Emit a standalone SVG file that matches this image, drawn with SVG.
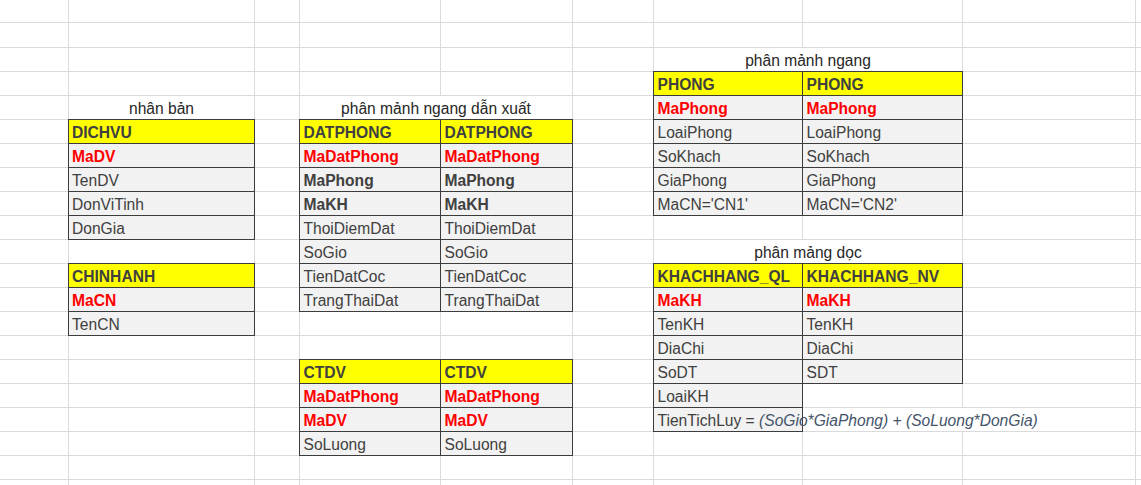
<svg xmlns="http://www.w3.org/2000/svg" width="1141" height="485" viewBox="0 0 1141 485">
  <style>
    .grid { fill: none; stroke: #dadada; stroke-width: 1; }
    .hd { fill: #ffff00; stroke: #3c3c3c; stroke-width: 1; }
    .cl { fill: #f2f2f2; stroke: #3c3c3c; stroke-width: 1; }
    .blank { fill: #ffffff; stroke: none; }
    text { font-family: "Liberation Sans", Arial, sans-serif; font-size: 15.6px; fill: #404040; }
    .ttl { fill: #262626; text-anchor: middle; }
    .bd { font-weight: bold; }
    .pk { font-weight: bold; fill: #ff0000; }
    .it { font-style: italic; fill: #44546a; }
  </style>

  <!-- sheet background and cell gridlines -->
  <g id="sheet">
    <rect x="0" y="0" width="1141" height="485" fill="#ffffff"/>
    <path class="grid" d="M0 22.5H1141M0 47.5H1141M0 71.5H1141M0 95.5H1141M0 119.5H1141M0 143.5H1141M0 167.5H1141M0 191.5H1141M0 215.5H1141M0 239.5H1141M0 263.5H1141M0 287.5H1141M0 311.5H1141M0 335.5H1141M0 359.5H1141M0 383.5H1141M0 407.5H1141M0 431.5H1141M0 455.5H1141M0 479.5H1141"/>
    <path class="grid" d="M68.5 0V485M254.5 0V485M299.5 0V485M440.5 0V485M572.5 0V485M653.5 0V485M802.5 0V485M962.5 0V485M1135.5 0V485"/>
    <!-- merged title cells and overflowing text hide the inner gridlines -->
    <rect class="blank" x="300" y="96" width="272" height="23"/>
    <rect class="blank" x="654" y="48" width="308" height="23"/>
    <rect class="blank" x="654" y="240" width="308" height="23"/>
    <rect class="blank" x="961" y="408" width="3" height="23"/>
  </g>

  <!-- nhân bản -->
  <g id="title-nhanban">
    <text class="ttl" x="161.5" y="113.5">nhân bản</text>
  </g>
  <g id="dichvu">
    <rect class="hd" x="68.5" y="119.5" width="186" height="24"/>
    <rect class="cl" x="68.5" y="143.5" width="186" height="24"/>
    <rect class="cl" x="68.5" y="167.5" width="186" height="24"/>
    <rect class="cl" x="68.5" y="191.5" width="186" height="24"/>
    <rect class="cl" x="68.5" y="215.5" width="186" height="24"/>
    <text class="bd" x="72" y="137.5">DICHVU</text>
    <text class="pk" x="72" y="161.5">MaDV</text>
    <text x="72" y="185.5">TenDV</text>
    <text x="72" y="209.5">DonViTinh</text>
    <text x="72" y="233.5">DonGia</text>
  </g>
  <g id="chinhanh">
    <rect class="hd" x="68.5" y="263.5" width="186" height="24"/>
    <rect class="cl" x="68.5" y="287.5" width="186" height="24"/>
    <rect class="cl" x="68.5" y="311.5" width="186" height="24"/>
    <text class="bd" x="72" y="281.5">CHINHANH</text>
    <text class="pk" x="72" y="305.5">MaCN</text>
    <text x="72" y="329.5">TenCN</text>
  </g>

  <!-- phân mảnh ngang dẫn xuất -->
  <g id="title-danxuat">
    <text class="ttl" x="436" y="113.5">phân mảnh ngang dẫn xuất</text>
  </g>
  <g id="datphong-1">
    <rect class="hd" x="299.5" y="119.5" width="141" height="24"/>
    <rect class="cl" x="299.5" y="143.5" width="141" height="24"/>
    <rect class="cl" x="299.5" y="167.5" width="141" height="24"/>
    <rect class="cl" x="299.5" y="191.5" width="141" height="24"/>
    <rect class="cl" x="299.5" y="215.5" width="141" height="24"/>
    <rect class="cl" x="299.5" y="239.5" width="141" height="24"/>
    <rect class="cl" x="299.5" y="263.5" width="141" height="24"/>
    <rect class="cl" x="299.5" y="287.5" width="141" height="24"/>
    <text class="bd" x="303.5" y="137.5">DATPHONG</text>
    <text class="pk" x="303.5" y="161.5">MaDatPhong</text>
    <text class="bd" x="303.5" y="185.5">MaPhong</text>
    <text class="bd" x="303.5" y="209.5">MaKH</text>
    <text x="303.5" y="233.5">ThoiDiemDat</text>
    <text x="303.5" y="257.5">SoGio</text>
    <text x="303.5" y="281.5">TienDatCoc</text>
    <text x="303.5" y="305.5">TrangThaiDat</text>
  </g>
  <g id="datphong-2">
    <rect class="hd" x="440.5" y="119.5" width="132" height="24"/>
    <rect class="cl" x="440.5" y="143.5" width="132" height="24"/>
    <rect class="cl" x="440.5" y="167.5" width="132" height="24"/>
    <rect class="cl" x="440.5" y="191.5" width="132" height="24"/>
    <rect class="cl" x="440.5" y="215.5" width="132" height="24"/>
    <rect class="cl" x="440.5" y="239.5" width="132" height="24"/>
    <rect class="cl" x="440.5" y="263.5" width="132" height="24"/>
    <rect class="cl" x="440.5" y="287.5" width="132" height="24"/>
    <text class="bd" x="444.5" y="137.5">DATPHONG</text>
    <text class="pk" x="444.5" y="161.5">MaDatPhong</text>
    <text class="bd" x="444.5" y="185.5">MaPhong</text>
    <text class="bd" x="444.5" y="209.5">MaKH</text>
    <text x="444.5" y="233.5">ThoiDiemDat</text>
    <text x="444.5" y="257.5">SoGio</text>
    <text x="444.5" y="281.5">TienDatCoc</text>
    <text x="444.5" y="305.5">TrangThaiDat</text>
  </g>
  <g id="ctdv-1">
    <rect class="hd" x="299.5" y="359.5" width="141" height="24"/>
    <rect class="cl" x="299.5" y="383.5" width="141" height="24"/>
    <rect class="cl" x="299.5" y="407.5" width="141" height="24"/>
    <rect class="cl" x="299.5" y="431.5" width="141" height="24"/>
    <text class="bd" x="303.5" y="377.5">CTDV</text>
    <text class="pk" x="303.5" y="401.5">MaDatPhong</text>
    <text class="pk" x="303.5" y="425.5">MaDV</text>
    <text x="303.5" y="449.5">SoLuong</text>
  </g>
  <g id="ctdv-2">
    <rect class="hd" x="440.5" y="359.5" width="132" height="24"/>
    <rect class="cl" x="440.5" y="383.5" width="132" height="24"/>
    <rect class="cl" x="440.5" y="407.5" width="132" height="24"/>
    <rect class="cl" x="440.5" y="431.5" width="132" height="24"/>
    <text class="bd" x="444.5" y="377.5">CTDV</text>
    <text class="pk" x="444.5" y="401.5">MaDatPhong</text>
    <text class="pk" x="444.5" y="425.5">MaDV</text>
    <text x="444.5" y="449.5">SoLuong</text>
  </g>

  <!-- phân mảnh ngang -->
  <g id="title-ngang">
    <text class="ttl" x="808" y="65.5">phân mảnh ngang</text>
  </g>
  <g id="phong-1">
    <rect class="hd" x="653.5" y="71.5" width="149" height="24"/>
    <rect class="cl" x="653.5" y="95.5" width="149" height="24"/>
    <rect class="cl" x="653.5" y="119.5" width="149" height="24"/>
    <rect class="cl" x="653.5" y="143.5" width="149" height="24"/>
    <rect class="cl" x="653.5" y="167.5" width="149" height="24"/>
    <rect class="cl" x="653.5" y="191.5" width="149" height="24"/>
    <text class="bd" x="657.5" y="89.5">PHONG</text>
    <text class="pk" x="657.5" y="113.5">MaPhong</text>
    <text x="657.5" y="137.5">LoaiPhong</text>
    <text x="657.5" y="161.5">SoKhach</text>
    <text x="657.5" y="185.5">GiaPhong</text>
    <text x="657.5" y="209.5">MaCN='CN1'</text>
  </g>
  <g id="phong-2">
    <rect class="hd" x="802.5" y="71.5" width="160" height="24"/>
    <rect class="cl" x="802.5" y="95.5" width="160" height="24"/>
    <rect class="cl" x="802.5" y="119.5" width="160" height="24"/>
    <rect class="cl" x="802.5" y="143.5" width="160" height="24"/>
    <rect class="cl" x="802.5" y="167.5" width="160" height="24"/>
    <rect class="cl" x="802.5" y="191.5" width="160" height="24"/>
    <text class="bd" x="806.5" y="89.5">PHONG</text>
    <text class="pk" x="806.5" y="113.5">MaPhong</text>
    <text x="806.5" y="137.5">LoaiPhong</text>
    <text x="806.5" y="161.5">SoKhach</text>
    <text x="806.5" y="185.5">GiaPhong</text>
    <text x="806.5" y="209.5">MaCN='CN2'</text>
  </g>

  <!-- phân mảng dọc -->
  <g id="title-doc">
    <text class="ttl" x="808" y="257.5">phân mảng dọc</text>
  </g>
  <g id="khachhang-nv">
    <rect class="hd" x="802.5" y="263.5" width="160" height="24"/>
    <rect class="cl" x="802.5" y="287.5" width="160" height="24"/>
    <rect class="cl" x="802.5" y="311.5" width="160" height="24"/>
    <rect class="cl" x="802.5" y="335.5" width="160" height="24"/>
    <rect class="cl" x="802.5" y="359.5" width="160" height="24"/>
    <text class="bd" x="806.5" y="281.5">KHACHHANG_NV</text>
    <text class="pk" x="806.5" y="305.5">MaKH</text>
    <text x="806.5" y="329.5">TenKH</text>
    <text x="806.5" y="353.5">DiaChi</text>
    <text x="806.5" y="377.5">SDT</text>
  </g>
  <g id="khachhang-ql">
    <rect class="hd" x="653.5" y="263.5" width="149" height="24"/>
    <rect class="cl" x="653.5" y="287.5" width="149" height="24"/>
    <rect class="cl" x="653.5" y="311.5" width="149" height="24"/>
    <rect class="cl" x="653.5" y="335.5" width="149" height="24"/>
    <rect class="cl" x="653.5" y="359.5" width="149" height="24"/>
    <rect class="cl" x="653.5" y="383.5" width="149" height="24"/>
    <rect class="cl" x="653.5" y="407.5" width="149" height="24"/>
    <text class="bd" x="657.5" y="281.5">KHACHHANG_QL</text>
    <text class="pk" x="657.5" y="305.5">MaKH</text>
    <text x="657.5" y="329.5">TenKH</text>
    <text x="657.5" y="353.5">DiaChi</text>
    <text x="657.5" y="377.5">SoDT</text>
    <text x="657.5" y="401.5">LoaiKH</text>
    <text x="657.5" y="425.5">TienTichLuy = <tspan class="it">(SoGio*GiaPhong) + (SoLuong*DonGia)</tspan></text>
  </g>
</svg>
